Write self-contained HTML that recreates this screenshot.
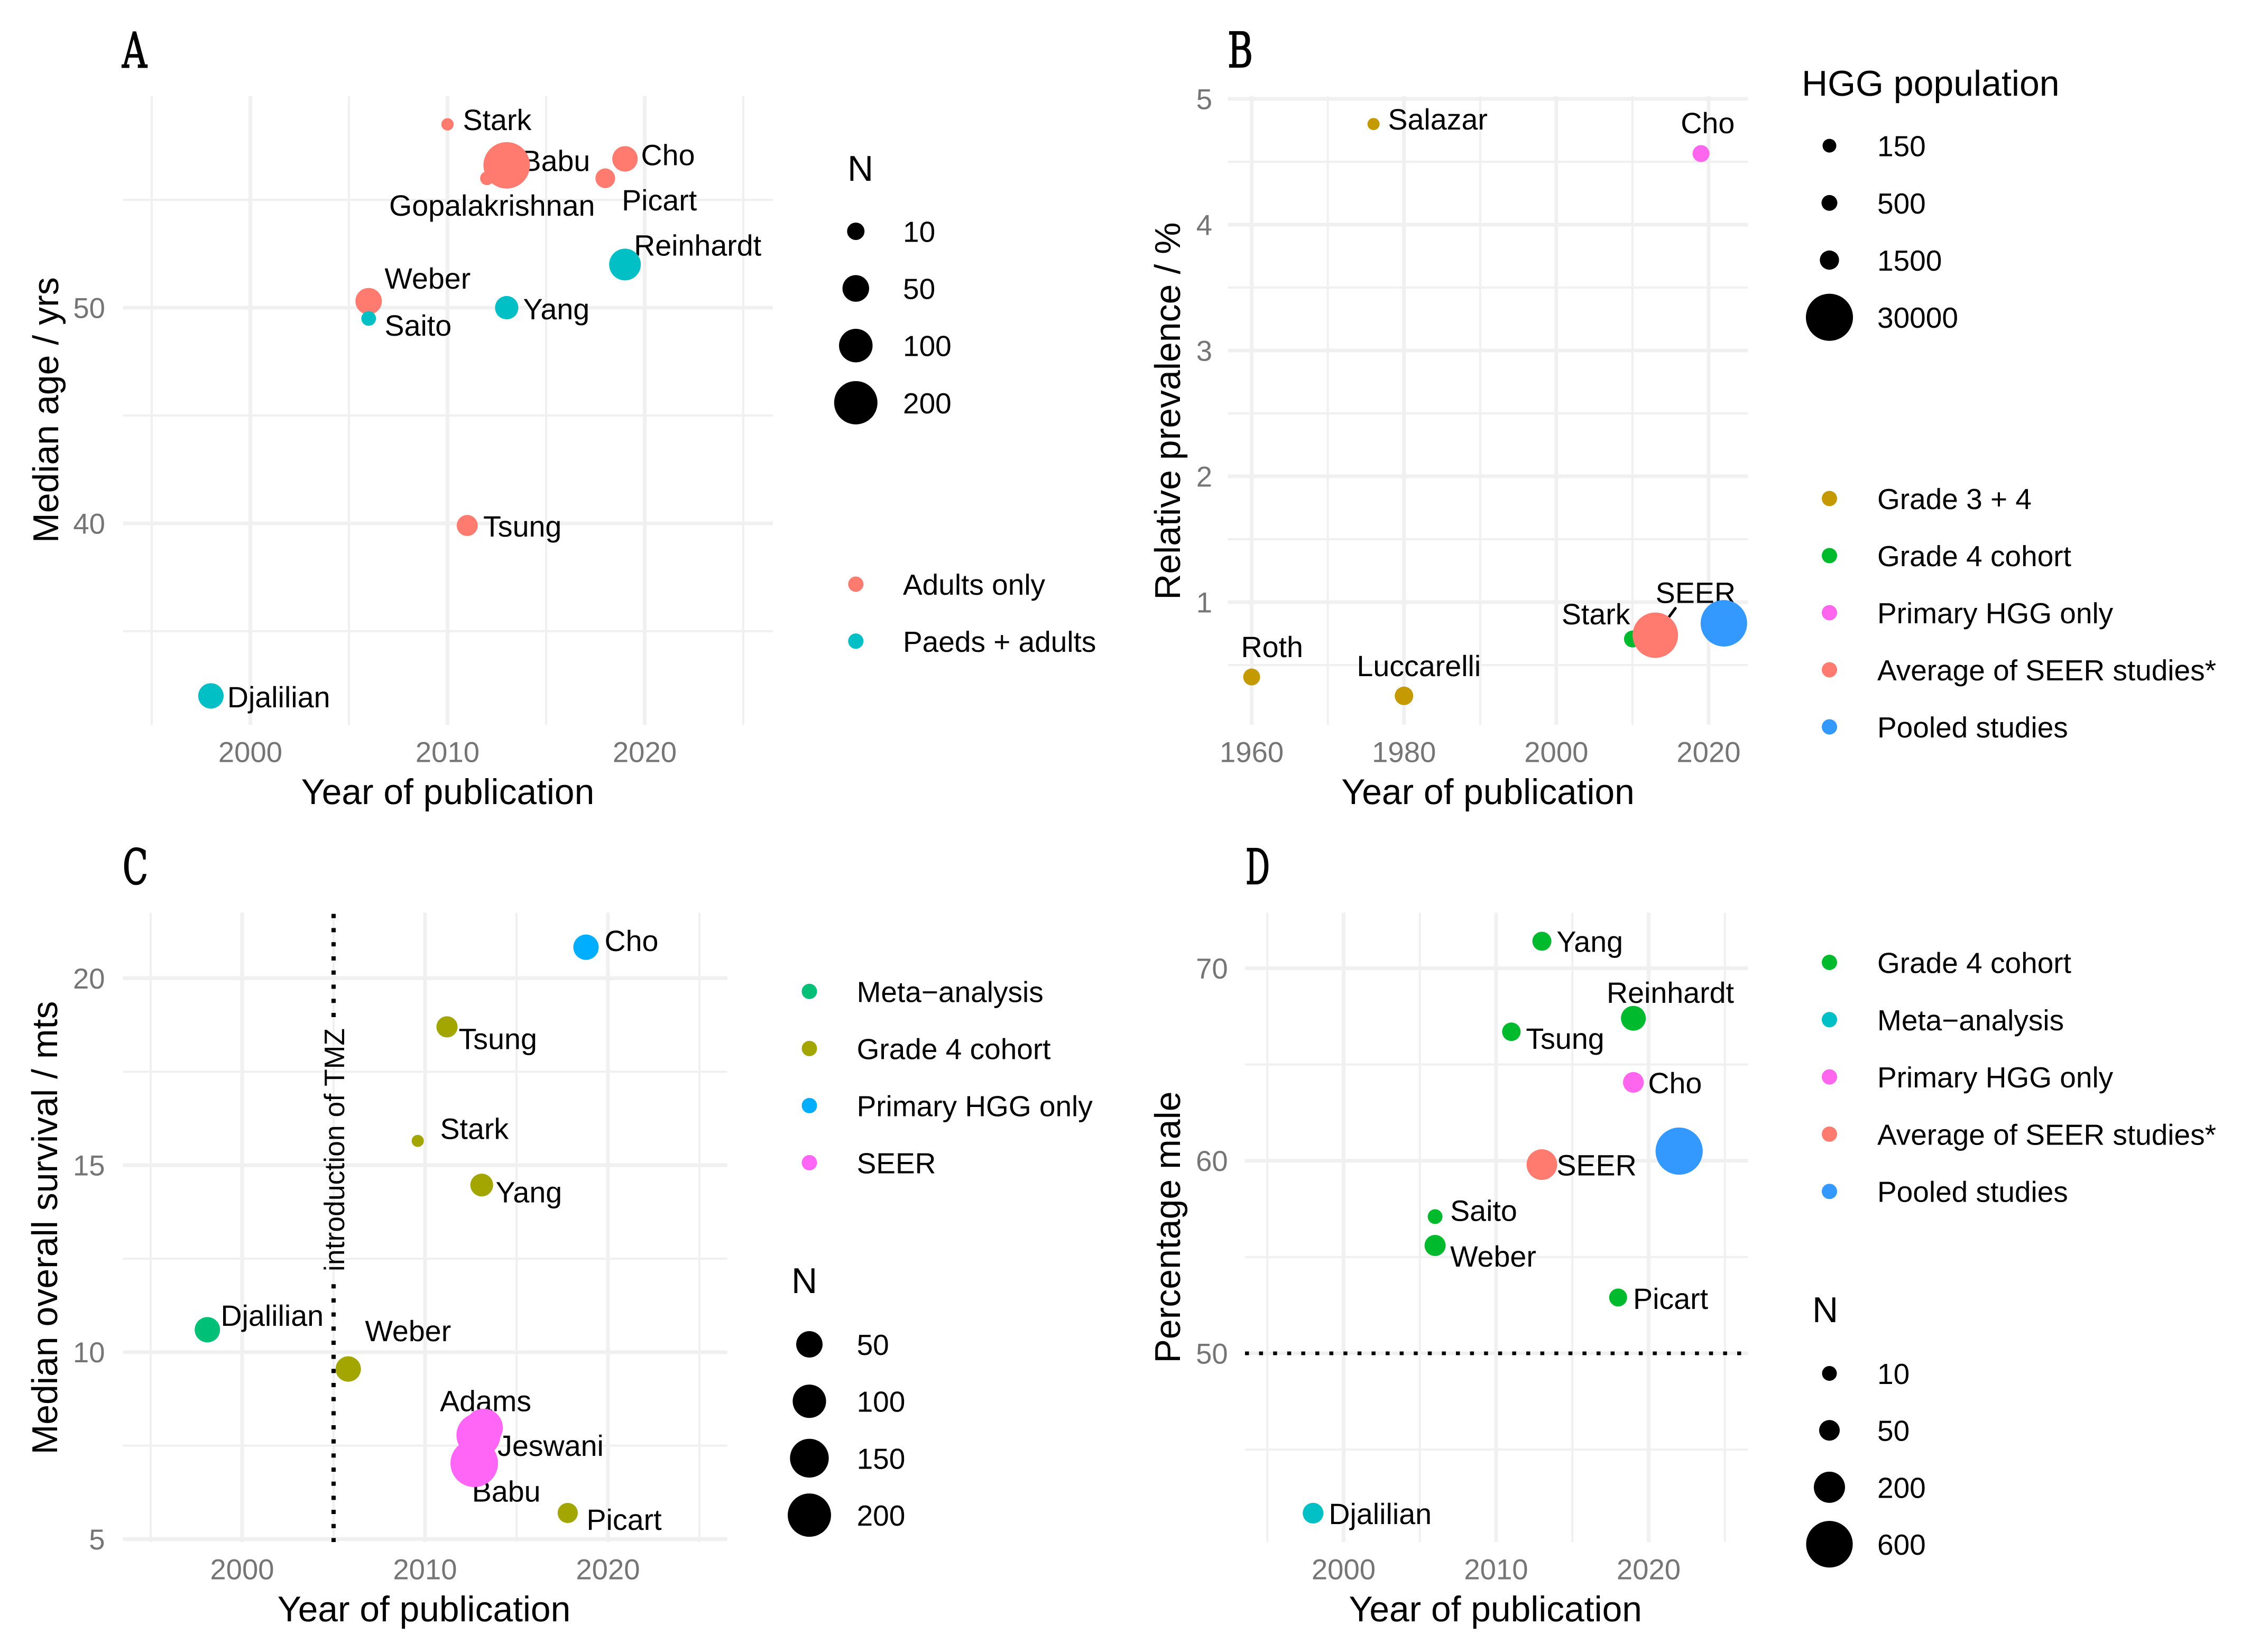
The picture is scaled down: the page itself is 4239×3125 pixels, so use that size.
<!DOCTYPE html>
<html lang="en">
<head>
<meta charset="utf-8">
<title>High-grade glioma study summary</title>
<style>
html,body{margin:0;padding:0;background:#fff;}
svg{display:block;}
text{font-family:"Liberation Sans",sans-serif;text-rendering:geometricPrecision;}
</style>
</head>
<body>
<svg id="figure" xmlns="http://www.w3.org/2000/svg" width="4239" height="3125" viewBox="0 0 4239 3125">
<rect x="0" y="0" width="4239" height="3125" fill="#ffffff"></rect>
</svg>
<script>
/* ---------- Panel A data ---------- */
const panelANames = ['Stark','Gopalakrishnan','Babu','Picart','Cho','Reinhardt','Weber','Saito','Yang','Tsung','Djalilian'];
const panelAYears = [2010,2012,2013,2018,2019,2019,2006,2006,2013,2011,1998];
const panelAValues = [58.5,56.0,56.6,56.0,56.9,52.0,50.3,49.5,50.0,39.9,32.0];
const panelASizes = [1,2.5,240,17,43,85,49,4,32,22,43];
const panelAGroups = ['Adults only','Adults only','Adults only','Adults only','Adults only','Paeds + adults','Adults only','Paeds + adults','Paeds + adults','Adults only','Paeds + adults'];
const panelAXMajor = [2000,2010,2020];
const panelAXMinor = [1995,2005,2015,2025];
const panelAYMajor = [40,50];
const panelAYMinor = [35,45,55];
const panelASizeBreaks = [10,50,100,200];
const panelAGroupLevels = ['Adults only','Paeds + adults'];

/* ---------- Panel B data ---------- */
const panelBNames = ['Salazar','Cho','Roth','Luccarelli','Stark','SEER','Pooled'];
const panelBYears = [1976,2019,1960,1980,2010,2013,2022];
const panelBValues = [4.8,4.565,0.405,0.255,0.707,0.737,0.832];
const panelBSizes = [21,760,760,1240,760,27300,29000];
const panelBGroups = ['Grade 3 + 4','Primary HGG only','Grade 3 + 4','Grade 3 + 4','Grade 4 cohort','Average of SEER studies*','Pooled studies'];
const panelBXMajor = [1960,1980,2000,2020];
const panelBXMinor = [1970,1990,2010];
const panelBYMajor = [1,2,3,4,5];
const panelBYMinor = [0.5,1.5,2.5,3.5,4.5];
const panelBSizeBreaks = [150,500,1500,30000];
const panelBGroupLevels = ['Grade 3 + 4','Grade 4 cohort','Primary HGG only','Average of SEER studies*','Pooled studies'];

/* ---------- Panel C data ---------- */
const panelCNames = ['Djalilian','Weber','Tsung','Stark','Yang','Cho','Adams','Jeswani','Babu','Picart'];
const panelCYears = [1998.1,2005.8,2011.2,2009.6,2013.1,2018.8,2013.21,2012.92,2012.69,2017.8];
const panelCValues = [10.6,9.55,18.7,15.65,14.47,20.83,7.98,7.78,7.03,5.7];
const panelCSizes = [44,44,24,1.2,31,44,143,209,254,20];
const panelCGroups = ['Meta\u2212analysis','Grade 4 cohort','Grade 4 cohort','Grade 4 cohort','Grade 4 cohort','Primary HGG only','SEER','SEER','SEER','Grade 4 cohort'];
const panelCXMajor = [2000,2010,2020];
const panelCXMinor = [1995,2005,2015,2025];
const panelCYMajor = [5,10,15,20];
const panelCYMinor = [7.5,12.5,17.5];
const panelCSizeBreaks = [50,100,150,200];
const panelCGroupLevels = ['Meta\u2212analysis','Grade 4 cohort','Primary HGG only','SEER'];
const panelCReferenceYear = 2005;

/* ---------- Panel D data ---------- */
const panelDNames = ['Yang','Reinhardt','Tsung','Cho','SEER','Pooled','Saito','Weber','Picart','Djalilian'];
const panelDYears = [2013,2019,2011,2019,2013,2022,2006,2006,2018,1998];
const panelDValues = [71.4,67.4,66.7,64.07,59.8,60.5,57.1,55.6,52.9,41.7];
const panelDSizes = [36,98,32,51,190,618,10,55,28,51];
const panelDGroups = ['Grade 4 cohort','Grade 4 cohort','Grade 4 cohort','Primary HGG only','Average of SEER studies*','Pooled studies','Grade 4 cohort','Grade 4 cohort','Grade 4 cohort','Meta\u2212analysis'];
const panelDXMajor = [2000,2010,2020];
const panelDXMinor = [1995,2005,2015,2025];
const panelDYMajor = [50,60,70];
const panelDYMinor = [45,55,65];
const panelDSizeBreaks = [10,50,200,600];
const panelDGroupLevels = ['Grade 4 cohort','Meta\u2212analysis','Primary HGG only','Average of SEER studies*','Pooled studies'];
const panelDReferenceValue = 50;

/* ---------- Layout (not data) ---------- */
const NS = 'http://www.w3.org/2000/svg';
const root = document.getElementById('figure');
const GRID = '#f0f0f0';
const TICK = '#757575';
const LABEL_SIZE = 55.6;
const LEGEND_SIZE = 55;
const TICK_SIZE = 54.5;
const TITLE_SIZE = 68;
const LABEL_SHIFT = -2.5;
const colorsA = {'Adults only':'#ff7b70','Paeds + adults':'#00c0c6'};
const colorsB = {'Grade 3 + 4':'#c49a00','Grade 4 cohort':'#00ba2e','Primary HGG only':'#ff66ee','Average of SEER studies*':'#ff7b70','Pooled studies':'#3399ff'};
const colorsC = {'Meta\u2212analysis':'#00c078','Grade 4 cohort':'#a3a500','Primary HGG only':'#00aeff','SEER':'#ff66f5'};
const colorsD = {'Grade 4 cohort':'#00ba2e','Meta\u2212analysis':'#00c0c6','Primary HGG only':'#ff66ee','Average of SEER studies*':'#ff7b70','Pooled studies':'#3399ff'};

const labelNudgeA = {Stark:[31.5,10.6],Gopalakrishnan:[-182.6,70.8],Babu:[30.6,10.7],Picart:[33.7,60.8],Cho:[32.8,11.9],Reinhardt:[19.4,-16.8],Weber:[32.7,-23.8],Saito:[32.7,32.6],Yang:[33.6,22],Tsung:[32.7,21],Djalilian:[33.5,21.6]};
const labelNudgeB = {Salazar:[29.8,10.4],Cho:[-35.8,-38.5],Roth:[-17.6,-37.6],Luccarelli:[-86.8,-37.3],Stark:[-131.6,-27.7],SEER:[3,-61]};
const labelNudgeC = {Djalilian:[27.7,-7.6],Weber:[34.3,-52.8],Tsung:[24.5,42.1],Stark:[44.8,-3.5],Yang:[28.7,32.6],Cho:[37.5,7.2],Adams:[-80.5,-31],Jeswani:[38.5,39.3],Babu:[-1.8,72.4],Picart:[38.1,32]};
const labelNudgeD = {Yang:[30.3,20.1],Reinhardt:[-48.2,-29.1],Tsung:[30,32.4],Cho:[30.2,20.6],SEER:[30.3,20.7],Saito:[31,8.2],Weber:[31,40],Picart:[30.7,21.6],Djalilian:[32.1,20.6]};

function slug(s){ return String(s).toLowerCase().replace(/[^a-z0-9]+/g,'-').replace(/^-|-$/g,''); }

function shape(tag, parent, attrs){
  const node = document.createElementNS(NS, tag);
  for (const k in attrs) node.setAttribute(k, attrs[k]);
  parent.appendChild(node);
  return node;
}
function label(parent, str, x, y, size, fill, anchor, rotate){
  const node = document.createElementNS(NS, 'text');
  node.setAttribute('x', x);
  node.setAttribute('y', y);
  node.setAttribute('font-size', size);
  node.setAttribute('fill', fill);
  node.setAttribute('text-anchor', anchor || 'start');
  if (rotate) node.setAttribute('transform', 'rotate(' + rotate + ' ' + x + ' ' + y + ')');
  node.textContent = str;
  parent.appendChild(node);
  return node;
}
function linearScale(v0, p0, v1, p1){
  return function(v){ return p0 + (v - v0) * (p1 - p0) / (v1 - v0); };
}
function sizeScale(a, b){
  return function(n){ return a + b * Math.sqrt(n); };
}

function drawPanel(p){
  const g = document.createElementNS(NS, 'g');
  
  
  root.appendChild(g);

  const grid = document.createElementNS(NS, 'g');
  
  
  g.appendChild(grid);

  p.xMinor.forEach(function(v){
    shape('line', grid, {x1:p.x(v), x2:p.x(v), y1:p.top, y2:p.bottom, stroke:GRID, 'stroke-width':4});
  });
  p.yMinor.forEach(function(v){
    shape('line', grid, {x1:p.left, x2:p.right, y1:p.y(v), y2:p.y(v), stroke:GRID, 'stroke-width':4});
  });
  p.xMajor.forEach(function(v){
    shape('line', grid, {x1:p.x(v), x2:p.x(v), y1:p.top, y2:p.bottom, stroke:GRID, 'stroke-width':7});
  });
  p.yMajor.forEach(function(v){
    shape('line', grid, {x1:p.left, x2:p.right, y1:p.y(v), y2:p.y(v), stroke:GRID, 'stroke-width':7});
  });

  const xt = document.createElementNS(NS, 'g');
  
  
  g.appendChild(xt);
  p.xMajor.forEach(function(v){
    label(xt, v, p.x(v), p.bottom + 70.5, TICK_SIZE, TICK, 'middle');
  });
  const yt = document.createElementNS(NS, 'g');
  
  
  g.appendChild(yt);
  p.yMajor.forEach(function(v){
    label(yt, v, p.yTickX, p.y(v) + 19.4, TICK_SIZE, TICK, 'end');
  });

  const xTitle = label(g, 'Year of publication', p.xTitleX, p.bottom + 150, 67.7, '#000', 'middle');
  
  

  const yTitle = label(g, p.yTitle, p.yTitleX, p.yTitleY, TITLE_SIZE, '#000', 'middle', -90);
  
  

  const letter = label(g, p.letter, p.letterX, p.letterY, 92, '#000', 'start');
  letter.setAttribute('style', 'font-family:"DejaVu Serif","Liberation Serif",serif;stroke:#000;stroke-width:2px');
  letter.setAttribute('textLength', p.letterW);
  letter.setAttribute('lengthAdjust', 'spacingAndGlyphs');
  
  

  if (p.decorate) p.decorate(g);

  p.names.forEach(function(name, i){
    const nudge = p.nudge[name];
    if (!nudge) return;
    const t = label(g, name, p.x(p.years[i]) + nudge[0] + LABEL_SHIFT, p.y(p.values[i]) + nudge[1], LABEL_SIZE, '#000', 'start');
    
    
  });

  if (p.connector) p.connector(g);

  p.names.forEach(function(name, i){
    const c = shape('circle', g, {
      cx: p.x(p.years[i]),
      cy: p.y(p.values[i]),
      r: p.r(p.sizes[i]),
      fill: p.colors[p.groups[i]]
    });
    
    
  });

  const sizeLegend = document.createElementNS(NS, 'g');
  
  
  g.appendChild(sizeLegend);
  label(sizeLegend, p.sizeTitle, p.sizeTitleX, p.sizeTitleY, TITLE_SIZE, '#000', 'start');
  p.sizeBreaks.forEach(function(b, i){
    const rowY = p.sizeY0 + i * p.sizeStep;
    const dot = shape('circle', sizeLegend, {cx:p.legendDotX, cy:rowY, r:p.r(b), fill:'#000'});
    
    
    label(sizeLegend, b, p.legendTextX, rowY + 20, LEGEND_SIZE, '#000', 'start');
  });

  const colorLegend = document.createElementNS(NS, 'g');
  
  
  g.appendChild(colorLegend);
  p.groupLevels.forEach(function(level, i){
    const rowY = p.colorY0 + i * p.colorStep;
    const dot = shape('circle', colorLegend, {cx:p.legendDotX, cy:rowY, r:14.5, fill:p.colors[level]});
    
    
    label(colorLegend, level, p.legendTextX, rowY + 20, LEGEND_SIZE, '#000', 'start');
  });
}

/* Panel A */
drawPanel({
  id:'a', letter:'A', letterX:231, letterY:127.7, letterW:47,
  left:232.5, right:1462, top:182, bottom:1371,
  x:linearScale(2000,473.5,2020,1219.5), y:linearScale(40,990,50,582),
  xMajor:panelAXMajor, xMinor:panelAXMinor, yMajor:panelAYMajor, yMinor:panelAYMinor,
  yTickX:199, xTitleX:847, yTitle:'Median age / yrs', yTitleX:110, yTitleY:775.6,
  names:panelANames, years:panelAYears, values:panelAValues, sizes:panelASizes, groups:panelAGroups,
  nudge:labelNudgeA, colors:colorsA, r:sizeScale(9.45,2.23),
  sizeTitle:'N', sizeTitleX:1603, sizeTitleY:342,
  sizeBreaks:panelASizeBreaks, sizeY0:437.5, sizeStep:108.1,
  legendDotX:1618.8, legendTextX:1708,
  groupLevels:panelAGroupLevels, colorY0:1105, colorStep:107.8
});

/* Panel B */
drawPanel({
  id:'b', letter:'B', letterX:2322, letterY:127, letterW:48,
  left:2322.7, right:3306, top:182, bottom:1371,
  x:linearScale(1960,2367.6,2020,3232), y:linearScale(1,1139,5,187),
  xMajor:panelBXMajor, xMinor:panelBXMinor, yMajor:panelBYMajor, yMinor:panelBYMinor,
  yTickX:2293, xTitleX:2814.6, yTitle:'Relative prevalence / %', yTitleX:2232, yTitleY:777.6,
  names:panelBNames, years:panelBYears, values:panelBValues, sizes:panelBSizes, groups:panelBGroups,
  nudge:labelNudgeB, colors:colorsB, r:sizeScale(10.6,0.196),
  connector:function(g){
    const idx = panelBNames.indexOf('SEER');
    const px = linearScale(1960,2367.6,2020,3232)(panelBYears[idx]);
    const py = linearScale(1,1139,5,187)(panelBValues[idx]);
    const seg = shape('line', g, {x1:px+38,y1:py-51,x2:px+18,y2:py-24,stroke:'#000','stroke-width':5,'stroke-linecap':'round'});
    
    
  },
  sizeTitle:'HGG population', sizeTitleX:3408, sizeTitleY:181,
  sizeBreaks:panelBSizeBreaks, sizeY0:275.6, sizeStep:108.2,
  legendDotX:3460.5, legendTextX:3551,
  groupLevels:panelBGroupLevels, colorY0:943, colorStep:108
});

/* Panel C */
drawPanel({
  id:'c', letter:'C', letterX:232, letterY:1672, letterW:48,
  left:232.4, right:1375.7, top:1726.5, bottom:2917,
  x:linearScale(2000,458,2020,1150), y:linearScale(5,2911.5,20,1850.5),
  xMajor:panelCXMajor, xMinor:panelCXMinor, yMajor:panelCYMajor, yMinor:panelCYMinor,
  yTickX:198.6, xTitleX:802, yTitle:'Median overall survival / mts', yTitleX:108, yTitleY:2322.5,
  names:panelCNames, years:panelCYears, values:panelCValues, sizes:panelCSizes, groups:panelCGroups,
  nudge:labelNudgeC, colors:colorsC, r:sizeScale(9,2.26),
  decorate:function(g){
    const refX = linearScale(2000,458,2020,1150)(panelCReferenceYear);
    const upper = shape('line', g, {x1:refX,x2:refX,y1:1728.7,y2:1925,stroke:'#000','stroke-width':8,'stroke-dasharray':'8 18.76'});
    
    
    const lower = shape('line', g, {x1:refX,x2:refX,y1:2429.3,y2:2917,stroke:'#000','stroke-width':8,'stroke-dasharray':'8 18.67'});
    
    
    const note = label(g, 'introduction of TMZ', 651, 2175, 53.5, '#000', 'middle', -90);
    
    
  },
  sizeTitle:'N', sizeTitleX:1497, sizeTitleY:2446,
  sizeBreaks:panelCSizeBreaks, sizeY0:2543, sizeStep:107.7,
  legendDotX:1531, legendTextX:1620.6,
  groupLevels:panelCGroupLevels, colorY0:1875.4, colorStep:108
});

/* Panel D */
drawPanel({
  id:'d', letter:'D', letterX:2356, letterY:1672, letterW:46,
  left:2355, right:3306.5, top:1726.5, bottom:2917,
  x:linearScale(2000,2541.5,2020,3118.5), y:linearScale(50,2560,70,1831.5),
  xMajor:panelDXMajor, xMinor:panelDXMinor, yMajor:panelDYMajor, yMinor:panelDYMinor,
  yTickX:2322.7, xTitleX:2828.7, yTitle:'Percentage male', yTitleX:2232, yTitleY:2321.5,
  names:panelDNames, years:panelDYears, values:panelDValues, sizes:panelDSizes, groups:panelDGroups,
  nudge:labelNudgeD, colors:colorsD, r:sizeScale(9.55,1.41),
  decorate:function(g){
    const refY = linearScale(50,2560,70,1831.5)(panelDReferenceValue);
    const ref = shape('line', g, {x1:2355,x2:3306.5,y1:refY,y2:refY,stroke:'#000','stroke-width':7,'stroke-dasharray':'7.5 19.1'});
    
    
  },
  sizeTitle:'N', sizeTitleX:3428, sizeTitleY:2501,
  sizeBreaks:panelDSizeBreaks, sizeY0:2598, sizeStep:107.7,
  legendDotX:3460.5, legendTextX:3551,
  groupLevels:panelDGroupLevels, colorY0:1820.5, colorStep:108.3
});
</script>
</body>
</html>
